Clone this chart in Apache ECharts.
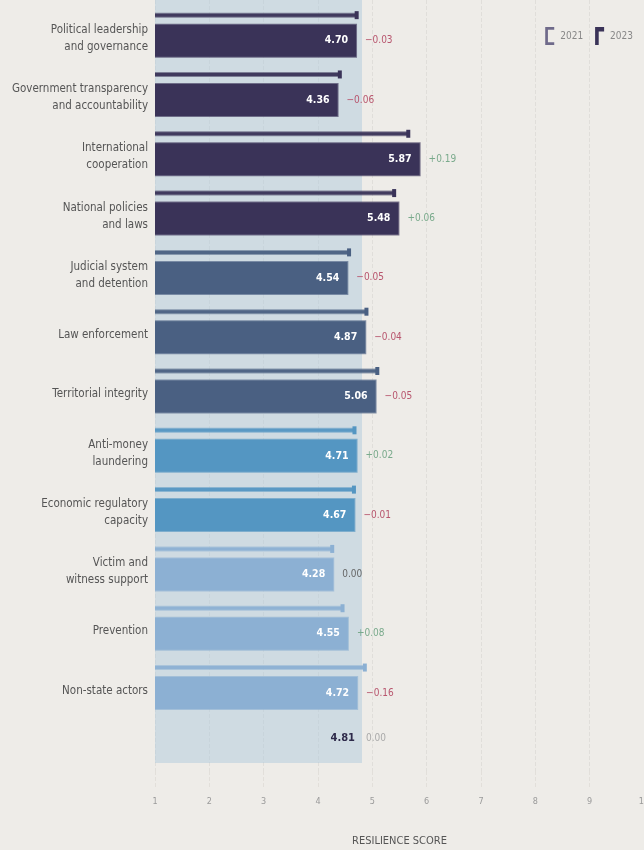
<!DOCTYPE html>
<html>
<head>
<meta charset="utf-8">
<script src="https://cdn.jsdelivr.net/npm/echarts@6/dist/echarts.min.js"></script>
<style>
  html, body { margin: 0; padding: 0; background: #eeece8; }
  #chart { width: 644px; height: 850px; }
</style>
</head>
<body>
<div id="chart"></div>
<script>
// chart data
var categories = [
  'Political leadership\nand governance',
  'Government transparency\nand accountability',
  'International\ncooperation',
  'National policies\nand laws',
  'Judicial system\nand detention',
  'Law enforcement',
  'Territorial integrity',
  'Anti-money\nlaundering',
  'Economic regulatory\ncapacity',
  'Victim and\nwitness support',
  'Prevention',
  'Non-state actors',
  ''
];
var scores2023 = [4.70, 4.36, 5.87, 5.48, 4.54, 4.87, 5.06, 4.71, 4.67, 4.28, 4.55, 4.72];
var scores2021 = [4.73, 4.42, 5.68, 5.42, 4.59, 4.91, 5.11, 4.69, 4.68, 4.28, 4.47, 4.88];
var changes = [-0.03, -0.06, 0.19, 0.06, -0.05, -0.04, -0.05, 0.02, -0.01, 0.00, 0.08, -0.16];
var average = 4.81;
var averageChange = 0.00;
var groups = [0, 0, 0, 0, 1, 1, 1, 2, 2, 3, 3, 3];
var xTicks = [1, 2, 3, 4, 5, 6, 7, 8, 9, 10];

var groupColors = ['#3a3358', '#4a6082', '#5496c2', '#8cb0d3'];
var font = "'Liberation Sans Narrow', 'DejaVu Sans Condensed', sans-serif";

function fmtChange(c) {
  if (c > 0) return '+' + c.toFixed(2);
  if (c < 0) return '\u2212' + Math.abs(c).toFixed(2);
  return '0.00';
}
function changeColor(c) {
  if (c > 0) return '#7aaa8c';
  if (c < 0) return '#b8566e';
  return '#666';
}

var thickData = scores2023.map(function (v, i) { return [v, i, changes[i], groups[i]]; });
var thinData = scores2021.map(function (v, i) { return [v, i, groups[i]]; });

var chart = echarts.init(document.getElementById('chart'));

var option = {
  backgroundColor: '#eeece8',
  animation: false,
  textStyle: { fontFamily: font },
  grid: { left: 155, right: 0, top: 0, height: 771, containLabel: false, outerBoundsMode: 'none' },
  legend: {
    right: 6, top: 22, itemGap: 12, itemWidth: 11, itemHeight: 18,
    textStyle: { color: '#888', fontSize: 10, fontFamily: font },
    data: [
      { name: '2021', icon: 'path://M0,0H10V3H3V17H10V20H0Z', itemStyle: { color: '#6f6a8a' } },
      { name: '2023', icon: 'path://M0,0H10V5H4V20H0Z', itemStyle: { color: '#3a3358' } }
    ]
  },
  xAxis: {
    type: 'value', min: 1, max: 10, interval: 1,
    name: 'RESILIENCE SCORE', nameLocation: 'middle', nameGap: 65,
    nameTextStyle: { color: '#555', fontSize: 11, fontFamily: font },
    axisLine: { show: false },
    axisTick: { show: true, length: 16, lineStyle: { color: '#e2dfda', type: 'dashed' } },
    axisLabel: { color: '#9a9a9a', fontSize: 9, margin: 26, showMaxLabel: true,
      formatter: function (v) { return xTicks.indexOf(v) >= 0 ? String(v) : ''; } },
    splitLine: { show: true, lineStyle: { color: 'rgba(0,0,0,0.06)', type: 'dashed' } }
  },
  yAxis: {
    type: 'category', inverse: true, data: categories,
    axisLine: { show: false }, axisTick: { show: false },
    axisLabel: { color: '#555', fontSize: 11.5, lineHeight: 17, margin: 7,
      fontFamily: font, align: 'right',
      formatter: function (v) { return v ? '\n' + v : ''; } }
  },
  series: [
    {
      type: 'custom', name: 'band', silent: true, z: 1,
      data: [[average, 0]],
      renderItem: function (params, api) {
        var cs = params.coordSys;
        var a = api.coord([1, 0]);
        var b = api.coord([api.value(0), 0]);
        return { type: 'rect', shape: { x: a[0], y: cs.y, width: b[0] - a[0], height: cs.height - 8 },
          style: { fill: 'rgba(176,202,220,0.5)' } };
      }
    },
    {
      type: 'custom', name: '2021', z: 3,
      itemStyle: { color: '#6f6a8a' },
      data: thinData,
      renderItem: function (params, api) {
        var cat = api.value(1);
        var a = api.coord([1, cat]);
        var b = api.coord([api.value(0), cat]);
        var col = groupColors[api.value(2)];
        var y = a[1] - 14.5;
        return { type: 'group', children: [
          { type: 'rect', shape: { x: a[0], y: y - 2.5, width: b[0] - a[0], height: 5 },
            style: { fill: col, opacity: 0.55 } },
          { type: 'rect', shape: { x: a[0], y: y - 1.5, width: b[0] - a[0], height: 3 },
            style: { fill: col, opacity: 0.9 } },
          { type: 'rect', shape: { x: b[0] - 3, y: y - 4, width: 4, height: 8 },
            style: { fill: col } }
        ] };
      }
    },
    {
      type: 'custom', name: '2023', z: 4,
      itemStyle: { color: '#3a3358' },
      data: thickData,
      renderItem: function (params, api) {
        var cat = api.value(1);
        var v = api.value(0);
        var ch = api.value(2);
        var a = api.coord([1, cat]);
        var b = api.coord([v, cat]);
        var col = groupColors[api.value(3)];
        var y = a[1] + 11;
        return { type: 'group', children: [
          { type: 'rect', shape: { x: a[0], y: y - 17, width: b[0] - a[0] + 1, height: 34 },
            style: { fill: col, opacity: 0.65 } },
          { type: 'rect', shape: { x: a[0], y: y - 16, width: b[0] - a[0], height: 32 },
            style: { fill: col } },
          { type: 'text', x: b[0] - 8, y: y,
            style: { text: v.toFixed(2), fill: '#fff', fontSize: 10.5, fontWeight: 'bold',
              fontFamily: font, align: 'right', verticalAlign: 'middle' } },
          { type: 'text', x: b[0] + 9, y: y,
            style: { text: fmtChange(ch), fill: changeColor(ch), fontSize: 10,
              fontFamily: font, align: 'left', verticalAlign: 'middle' } }
        ] };
      }
    },
    {
      type: 'custom', name: 'average', z: 4, silent: true,
      data: [[average, categories.length - 1, averageChange]],
      renderItem: function (params, api) {
        var cat = api.value(1);
        var v = api.value(0);
        var b = api.coord([v, cat]);
        var y = b[1] - 3;
        return { type: 'group', children: [
          { type: 'text', x: b[0] - 7, y: y,
            style: { text: v.toFixed(2), fill: '#2e2a4a', fontSize: 11, fontWeight: 'bold',
              fontFamily: font, align: 'right', verticalAlign: 'middle' } },
          { type: 'text', x: b[0] + 4, y: y,
            style: { text: fmtChange(api.value(2)), fill: '#aaa', fontSize: 10,
              fontFamily: font, align: 'left', verticalAlign: 'middle' } }
        ] };
      }
    }
  ]
};

chart.setOption(option);
</script>
</body>
</html>
